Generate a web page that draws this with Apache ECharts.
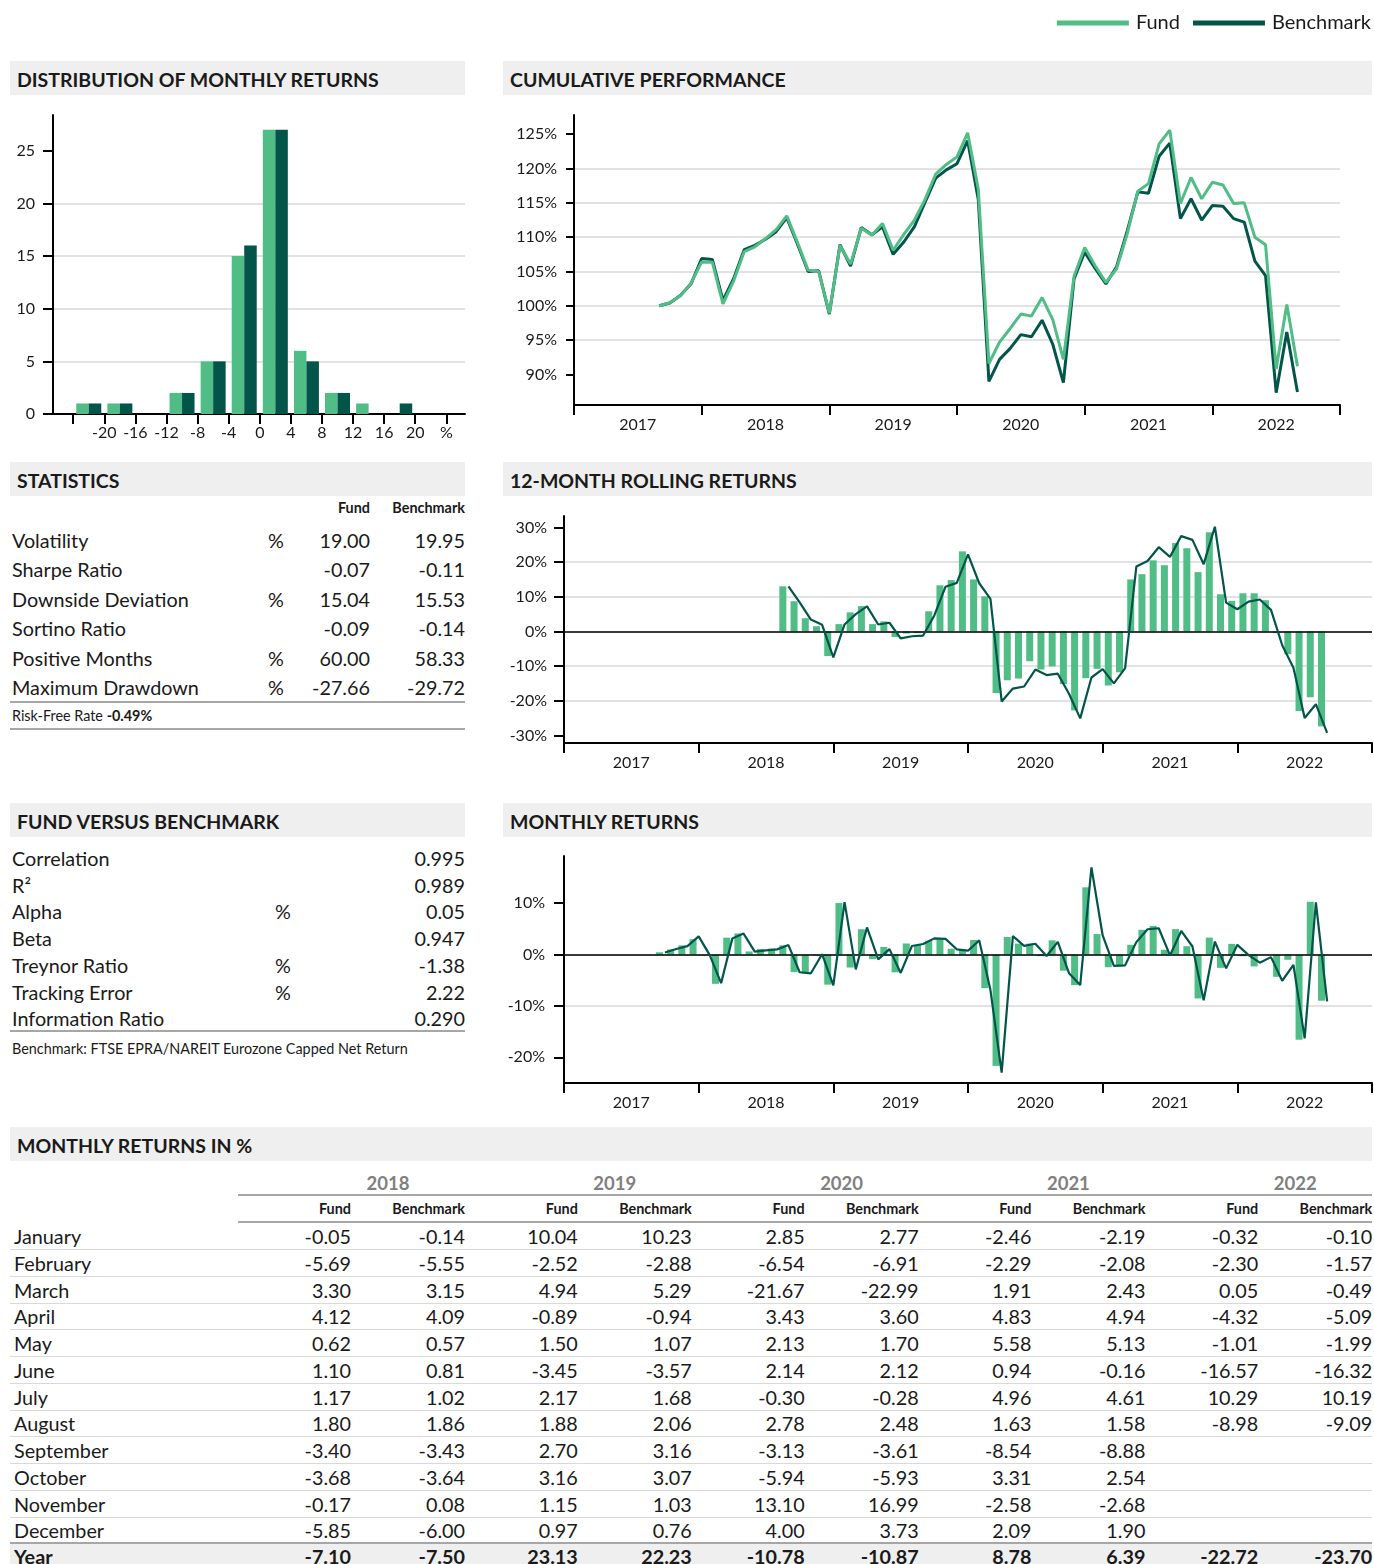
<!DOCTYPE html>
<html><head><meta charset="utf-8">
<script src="https://cdn.jsdelivr.net/npm/echarts@6/dist/echarts.min.js"></script>
<style>
body{margin:0;background:#fff;font-family:Lato,'Open Sans',sans-serif;color:#1a1a1a;}
#page{position:relative;width:1374px;height:1564px;overflow:hidden;background:#fff;}
#chart{position:absolute;left:0;top:0;width:1374px;height:1564px;}
.t{position:absolute;white-space:nowrap;}
.box{position:absolute;}
</style></head>
<body><div id="page"><div id="bg"></div><div id="chart"></div></div>
<script>
// ---------------- DATA ----------------
const C_FUND = '#50bd86', C_BENCH = '#03554a';
const yearLabels = ['2017','2018','2019','2020','2021','2022'];

// Distribution of monthly returns (bins of 4%)
const histEdges = [-24,-20,-16,-12,-8,-4,0,4,8,12,16,20,24];
const histTickLabels = ['','-20','-16','-12','-8','-4','0','4','8','12','16','20','%'];
const histFund  = [1,1,0,2,5,15,27,6,2,1,0,0];
const histBench = [1,1,0,2,5,16,27,5,2,0,1,0];
const histYTicks = [0,5,10,15,20,25];

// Cumulative performance (month-end values, starting end of Aug 2017)
const cumStart = '2017-08';
const fundCum = [100,100.45,101.45,103.3,106.4,
 106.35,100.3,103.6,107.9,108.6,109.8,111.1,113.1,109.25,105.2,105.0,98.9,
 108.8,106.1,111.3,110.3,112.0,108.1,110.4,112.5,115.5,119.2,120.6,121.7,
 125.2,117.0,91.6,94.7,96.7,98.8,98.5,101.2,98.0,92.2,104.3,108.5,
 105.8,103.4,105.4,110.5,116.7,117.8,123.6,125.6,114.9,118.7,115.6,118.0,
 117.6,114.9,115.0,110.0,108.9,90.8,100.2,91.2];
const benchCum = [100,100.4,101.5,103.2,106.9,
 106.75,100.8,103.95,108.2,108.8,109.7,110.8,112.85,109.0,105.0,105.1,98.8,
 108.9,105.8,111.4,110.35,111.5,107.5,109.3,111.55,115.1,118.6,119.8,120.7,
 124.05,115.5,89.0,92.2,93.8,95.8,95.5,97.9,94.4,88.8,103.9,107.8,
 105.4,103.2,105.7,110.9,116.6,116.4,121.8,123.7,112.7,115.6,112.5,114.6,
 114.5,112.7,112.2,106.5,104.4,87.35,96.2,87.45];
const cumYTicks = [90,95,100,105,110,115,120,125];

// 12-month rolling returns (starting Aug 2018)
const rollStart = '2018-08';
const fundRoll = [13.0,8.7,3.8,1.5,-7.1,
 2.1,5.5,7.3,2.1,2.9,-1.6,-0.6,-0.5,5.8,13.3,14.8,23.1,
 15.0,10.1,-17.8,-14.1,-13.6,-8.6,-11.0,-10.1,-15.2,-22.8,-13.5,-10.8,
 -15.6,-11.8,15.0,16.5,20.5,19.1,25.5,24.0,17.1,28.6,10.7,8.8,
 11.0,11.0,9.0,-0.5,-6.6,-23.0,-19.0,-27.4];
const benchRoll = [13.0,8.4,3.4,1.9,-7.5,
 2.0,5.0,7.2,2.0,2.5,-2.0,-1.4,-1.2,4.6,12.9,14.0,22.2,
 13.9,9.4,-20.2,-16.5,-15.9,-11.0,-12.6,-12.2,-18.0,-25.1,-13.3,-10.9,
 -15.0,-10.6,18.7,20.3,24.3,21.5,27.5,26.4,19.4,30.2,8.3,6.4,
 8.6,9.2,6.2,-4.0,-10.5,-25.0,-21.0,-29.3];
const rollYTicks = [-30,-20,-10,0,10,20,30];

// Monthly returns
const monthlyStart = '2017-09';
const fund2017 = [0.45,1.00,1.80,3.00];            // Sep-Dec 2017
const bench2017 = [0.40,1.10,1.65,3.55];
const fund2018 = [-0.05,-5.69,3.30,4.12,0.62,1.10,1.17,1.80,-3.40,-3.68,-0.17,-5.85];
const bench2018 = [-0.14,-5.55,3.15,4.09,0.57,0.81,1.02,1.86,-3.43,-3.64,0.08,-6.00];
const fund2019 = [10.04,-2.52,4.94,-0.89,1.50,-3.45,2.17,1.88,2.70,3.16,1.15,0.97];
const bench2019 = [10.23,-2.88,5.29,-0.94,1.07,-3.57,1.68,2.06,3.16,3.07,1.03,0.76];
const fund2020 = [2.85,-6.54,-21.67,3.43,2.13,2.14,-0.30,2.78,-3.13,-5.94,13.10,4.00];
const bench2020 = [2.77,-6.91,-22.99,3.60,1.70,2.12,-0.28,2.48,-3.61,-5.93,16.99,3.73];
const fund2021 = [-2.46,-2.29,1.91,4.83,5.58,0.94,4.96,1.63,-8.54,3.31,-2.58,2.09];
const bench2021 = [-2.19,-2.08,2.43,4.94,5.13,-0.16,4.61,1.58,-8.88,2.54,-2.68,1.90];
const fund2022 = [-0.32,-2.30,0.05,-4.32,-1.01,-16.57,10.29,-8.98];
const bench2022 = [-0.10,-1.57,-0.49,-5.09,-1.99,-16.32,10.19,-9.09];
const fundYear = [-7.10,23.13,-10.78,8.78,-22.72];
const benchYear = [-7.50,22.23,-10.87,6.39,-23.70];
const monthYTicks = [-20,-10,0,10];

const tableYears = ['2018','2019','2020','2021','2022'];
const monthNames = ['January','February','March','April','May','June','July','August','September','October','November','December'];

// Statistics
const statLabels = ['Volatility','Sharpe Ratio','Downside Deviation','Sortino Ratio','Positive Months','Maximum Drawdown'];
const statUnits = ['%','','%','','%','%'];
const statFund = ['19.00','-0.07','15.04','-0.09','60.00','-27.66'];
const statBench = ['19.95','-0.11','15.53','-0.14','58.33','-29.72'];
const riskFree = '-0.49%';

// Fund versus benchmark
const fvbLabels = ['Correlation','R²','Alpha','Beta','Treynor Ratio','Tracking Error','Information Ratio'];
const fvbUnits = ['','','%','','%','%',''];
const fvbValues = ['0.995','0.989','0.05','0.947','-1.38','2.22','0.290'];
const benchmarkName = 'Benchmark: FTSE EPRA/NAREIT Eurozone Capped Net Return';

// ---------------- HELPERS ----------------
function mIdx(s){ const [y,m] = s.split('-').map(Number); return (y-2017)*12 + (m-1); }
const fundMonthly = [].concat(fund2017,fund2018,fund2019,fund2020,fund2021,fund2022);
const benchMonthly = [].concat(bench2017,bench2018,bench2019,bench2020,bench2021,bench2022);
const fundTab = [fund2018,fund2019,fund2020,fund2021,fund2022];
const benchTab = [bench2018,bench2019,bench2020,bench2021,bench2022];

const page = document.getElementById('bg');
const BASE = 19.8, SMALL = 14.4;
function txt(s, x, y, o){
  o = o || {};
  const size = o.size || BASE;
  const d = document.createElement('div');
  d.className = 't';
  if (o.html) d.innerHTML = s; else d.textContent = s;
  d.style.fontSize = size + 'px';
  d.style.fontWeight = o.weight || 'normal';
  d.style.color = o.color || '#1a1a1a';
  d.style.lineHeight = Math.round(size*1.4) + 'px';
  d.style.top = (y - Math.round(size*1.4)/2) + 'px';
  const a = o.align || 'left';
  if (a === 'left') d.style.left = x + 'px';
  else if (a === 'right') d.style.right = (1374 - x) + 'px';
  else { d.style.left = x + 'px'; d.style.transform = 'translateX(-50%)'; }
  page.appendChild(d);
}
function box(x, y, w, h, color){
  const d = document.createElement('div');
  d.className = 'box';
  d.style.left = x+'px'; d.style.top = y+'px'; d.style.width = w+'px'; d.style.height = h+'px';
  d.style.background = color;
  page.appendChild(d);
}
function header(s, x, y, w){
  box(x, y, w, 34, '#efefef');
  txt(s, x + 7, y + 18, {weight:'bold', size:19.5});
}

// ---------------- HTML PARTS ----------------
header('DISTRIBUTION OF MONTHLY RETURNS', 10, 61, 455);
header('CUMULATIVE PERFORMANCE', 503, 61, 869);
header('STATISTICS', 10, 462, 455);
header('12-MONTH ROLLING RETURNS', 503, 462, 869);
header('FUND VERSUS BENCHMARK', 10, 803, 455);
header('MONTHLY RETURNS', 503, 803, 869);
header('MONTHLY RETURNS IN %', 10, 1127, 1362);

// Statistics
txt('Fund', 370, 508, {align:'right', weight:'bold', size:SMALL});
txt('Benchmark', 465, 508, {align:'right', weight:'bold', size:SMALL});
statLabels.forEach((l,i)=>{
  const y = 540 + i*29.4;
  txt(l, 12, y);
  if (statUnits[i]) txt(statUnits[i], 276, y, {align:'center'});
  txt(statFund[i], 370, y, {align:'right'});
  txt(statBench[i], 465, y, {align:'right'});
});
box(10, 701, 455, 2, '#a6a6a6');
txt('Risk-Free Rate <b>' + riskFree + '</b>', 12, 716, {size:SMALL, html:true});
box(10, 728, 455, 2, '#a6a6a6');

// Fund versus benchmark
fvbLabels.forEach((l,i)=>{
  const y = 858 + i*26.7;
  txt(l, 12, y);
  if (fvbUnits[i]) txt(fvbUnits[i], 283, y, {align:'center'});
  txt(fvbValues[i], 465, y, {align:'right'});
});
box(10, 1030, 455, 2, '#a6a6a6');
txt(benchmarkName, 12, 1049, {size:SMALL});

// Monthly returns table
const blockW = 226.8;
tableYears.forEach((yr,k)=>{
  const x0 = 238 + k*blockW;
  txt(yr, x0 + 150, 1183, {align:'center', weight:'bold', size:18.5, color:'#808080'});
  txt('Fund', x0 + 113, 1209, {align:'right', weight:'bold', size:SMALL});
  txt('Benchmark', x0 + 227, 1209, {align:'right', weight:'bold', size:SMALL});
});
box(238, 1194, 1134, 2, '#a6a6a6');
box(238, 1221, 1134, 2, '#a6a6a6');
monthNames.forEach((mn,i)=>{
  const y = 1236 + i*26.75;
  txt(mn, 14, y);
  tableYears.forEach((yr,k)=>{
    const x0 = 238 + k*blockW;
    if (fundTab[k][i] !== undefined) txt(fundTab[k][i].toFixed(2), x0 + 113, y, {align:'right'});
    if (benchTab[k][i] !== undefined) txt(benchTab[k][i].toFixed(2), x0 + 227, y, {align:'right'});
  });
  if (i < 11) box(10, Math.round(y + 13), 1362, 1, '#d9d9d9');
});
box(10, 1542, 1362, 2, '#a6a6a6');
box(10, 1544, 1362, 20, '#efefef');
txt('Year', 14, 1556, {weight:'bold'});
tableYears.forEach((yr,k)=>{
  const x0 = 238 + k*blockW;
  txt(fundYear[k].toFixed(2), x0 + 113, 1556, {align:'right', weight:'bold'});
  txt(benchYear[k].toFixed(2), x0 + 227, 1556, {align:'right', weight:'bold'});
});

// ---------------- CHARTS ----------------
const FONT = {color:'#1a1a1a', fontFamily:'Lato', fontSize:16};
const AXL = {show:true, onZero:false, lineStyle:{color:'#000', width:2}};
const yearTicks = yearLabels.map((_,i)=>i*12).concat([72]);
const yearLabelPos = yearLabels.map((_,i)=>i*12+6);

function timeX(g){
  return {gridIndex:g, type:'value', min:0, max:72,
    axisLine:AXL,
    axisTick:{show:true, customValues:yearTicks, length:10, lineStyle:{color:'#000', width:2}},
    axisLabel:Object.assign({customValues:yearLabelPos, margin:12,
      formatter:v=>yearLabels[Math.round((v-6)/12)]}, FONT),
    splitLine:{show:false}};
}
function valY(g, min, max, ticks, fmt, margin, tickLen){
  return {gridIndex:g, type:'value', min, max,
    axisLine:AXL,
    axisTick:{show:true, customValues:ticks, length:tickLen, lineStyle:{color:'#000', width:2}},
    axisLabel:Object.assign({customValues:ticks, margin, formatter:fmt}, FONT),
    splitLine:{show:true, showMinLine:false, showMaxLine:false, lineStyle:{color:'#d9d9d9', width:1.5}}};
}
const zeroLine = {silent:true, symbol:'none', label:{show:false}, lineStyle:{color:'#000', width:1.5, type:'solid'}, data:[{yAxis:0}]};

const histCenters = histFund.map((_,i)=>(histEdges[i]+histEdges[i+1])/2);
const cs = mIdx(cumStart), rs = mIdx(rollStart), ms = mIdx(monthlyStart);

const option = {
  animation:false,
  textStyle:{fontFamily:'Lato'},
  legend:{data:['Fund','Benchmark'], right:3, top:13, padding:0, icon:'rect', itemWidth:72, itemHeight:5, itemGap:13,
    textStyle:{fontSize:20, color:'#1a1a1a', fontFamily:'Lato', padding:[0,0,0,2]}},
  grid:[
    {left:53, top:115, width:412, height:299, outerBoundsMode:'none'},
    {left:574, top:115, width:766, height:290, outerBoundsMode:'none'},
    {left:564, top:516, width:808, height:227, outerBoundsMode:'none'},
    {left:564, top:856, width:808, height:227, outerBoundsMode:'none'}
  ],
  xAxis:[
    {gridIndex:0, type:'value', min:-26.6, max:26.4,
      axisLine:AXL,
      axisTick:{show:true, customValues:histEdges, length:10, lineStyle:{color:'#000', width:2}},
      axisLabel:Object.assign({customValues:histEdges, margin:11,
        formatter:v=>histTickLabels[histEdges.indexOf(v)]}, FONT),
      splitLine:{show:false}},
    timeX(1), timeX(2), timeX(3)
  ],
  yAxis:[
    valY(0, 0, 28.4, histYTicks, v=>String(v), 18, 10),
    valY(1, 85.55, 127.8, cumYTicks, v=>v+'%', 17, 8),
    valY(2, -32.2, 33.3, rollYTicks, v=>v+'%', 17, 10),
    valY(3, -25, 19.2, monthYTicks, v=>v+'%', 19, 10)
  ],
  series:[
    {name:'Fund', type:'bar', xAxisIndex:0, yAxisIndex:0, barWidth:12.5, barGap:'0%',
      itemStyle:{color:C_FUND}, data:histCenters.map((c,i)=>[c, histFund[i]])},
    {name:'Benchmark', type:'bar', xAxisIndex:0, yAxisIndex:0, barWidth:12.5, barGap:'0%',
      itemStyle:{color:C_BENCH}, data:histCenters.map((c,i)=>[c, histBench[i]])},

    {name:'Benchmark', type:'line', xAxisIndex:1, yAxisIndex:1, symbol:'none',
      lineStyle:{color:C_BENCH, width:3}, itemStyle:{color:C_BENCH},
      data:benchCum.map((v,i)=>[cs+1+i, v])},
    {name:'Fund', type:'line', xAxisIndex:1, yAxisIndex:1, symbol:'none',
      lineStyle:{color:C_FUND, width:3}, itemStyle:{color:C_FUND},
      data:fundCum.map((v,i)=>[cs+1+i, v])},

    {name:'Fund', type:'bar', xAxisIndex:2, yAxisIndex:2, barWidth:7,
      itemStyle:{color:C_FUND}, markLine:zeroLine,
      data:fundRoll.map((v,i)=>[rs+i+0.5, v])},
    {name:'Benchmark', type:'line', xAxisIndex:2, yAxisIndex:2, symbol:'none', z:5,
      lineStyle:{color:C_BENCH, width:2.2}, itemStyle:{color:C_BENCH},
      data:benchRoll.map((v,i)=>[rs+i+1, v])},

    {name:'Fund', type:'bar', xAxisIndex:3, yAxisIndex:3, barWidth:7,
      itemStyle:{color:C_FUND}, markLine:zeroLine,
      data:fundMonthly.map((v,i)=>[ms+i+0.5, v])},
    {name:'Benchmark', type:'line', xAxisIndex:3, yAxisIndex:3, symbol:'none', z:5,
      lineStyle:{color:C_BENCH, width:2.2}, itemStyle:{color:C_BENCH},
      data:benchMonthly.map((v,i)=>[ms+i+1, v])}
  ]
};
const chart = echarts.init(document.getElementById('chart'), null, {renderer:'canvas'});
chart.setOption(option);
</script>
</body></html>
